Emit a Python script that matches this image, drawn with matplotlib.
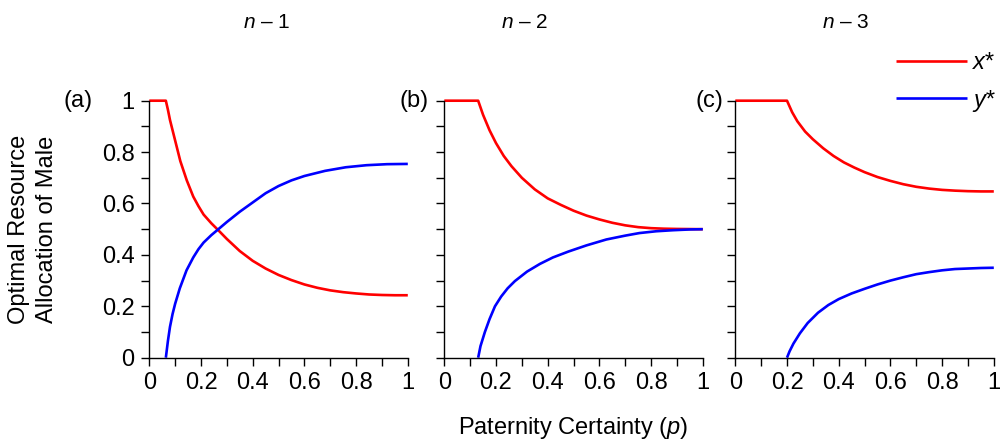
import numpy as np
import matplotlib
matplotlib.use("Agg")
import matplotlib.pyplot as plt
from matplotlib.ticker import MultipleLocator

plt.rcParams['font.family'] = ['Liberation Sans', 'DejaVu Sans']
plt.rcParams['mathtext.fontset'] = 'custom'
plt.rcParams['mathtext.it'] = 'Liberation Sans:italic'
plt.rcParams['mathtext.rm'] = 'Liberation Sans'

# values: paternity certainty p vs optimal allocation
# panel (a), n = 1
p_x1 = [0, 0.064, 0.072, 0.08, 0.09, 0.10, 0.12, 0.145, 0.17, 0.19, 0.21, 0.24,
        0.266, 0.30, 0.35, 0.40, 0.45, 0.50, 0.55, 0.60, 0.65, 0.70, 0.75, 0.80,
        0.85, 0.90, 0.95, 1.0]
x1 = [1, 1, 0.965, 0.925, 0.885, 0.845, 0.765, 0.69, 0.627, 0.59, 0.557, 0.523,
      0.497, 0.462, 0.415, 0.377, 0.347, 0.322, 0.302, 0.285, 0.272, 0.262, 0.255,
      0.25, 0.246, 0.244, 0.243, 0.243]
p_y1 = [0.064, 0.072, 0.08, 0.09, 0.10, 0.118, 0.144, 0.17, 0.19, 0.21, 0.24, 0.266,
        0.30, 0.35, 0.40, 0.45, 0.50, 0.55, 0.60, 0.68, 0.76, 0.84, 0.92, 1.0]
y1 = [0, 0.065, 0.12, 0.17, 0.21, 0.27, 0.34, 0.39, 0.422, 0.448, 0.477, 0.499,
      0.528, 0.568, 0.604, 0.64, 0.668, 0.69, 0.707, 0.727, 0.741, 0.749, 0.753, 0.754]

# panel (b), n = 2
p_x2 = [0, 0.131, 0.15, 0.175, 0.20, 0.23, 0.26, 0.30, 0.35, 0.40, 0.45, 0.50,
        0.55, 0.60, 0.65, 0.70, 0.75, 0.80, 0.85, 0.90, 1.0]
x2 = [1, 1, 0.945, 0.885, 0.835, 0.785, 0.745, 0.70, 0.655, 0.62, 0.595, 0.572,
      0.553, 0.538, 0.525, 0.515, 0.508, 0.504, 0.502, 0.501, 0.50]
p_y2 = [0.131, 0.14, 0.157, 0.175, 0.196, 0.22, 0.245, 0.273, 0.32, 0.37, 0.42,
        0.48, 0.55, 0.627, 0.70, 0.755, 0.82, 0.884, 0.95, 1.0]
y2 = [0, 0.045, 0.10, 0.15, 0.20, 0.238, 0.27, 0.298, 0.335, 0.365, 0.39,
      0.413, 0.437, 0.46, 0.475, 0.485, 0.492, 0.496, 0.499, 0.50]

# panel (c), n = 3
p_x3 = [0, 0.2, 0.22, 0.24, 0.27, 0.30, 0.34, 0.38, 0.42, 0.46, 0.50, 0.55,
        0.60, 0.65, 0.70, 0.75, 0.80, 0.85, 0.90, 0.95, 1.0]
x3 = [1, 1, 0.955, 0.92, 0.88, 0.85, 0.815, 0.785, 0.76, 0.74, 0.722, 0.703,
      0.688, 0.675, 0.665, 0.658, 0.653, 0.65, 0.648, 0.647, 0.647]
p_y3 = [0.2, 0.21, 0.225, 0.25, 0.28, 0.32, 0.36, 0.40, 0.45, 0.50, 0.55,
        0.60, 0.65, 0.70, 0.75, 0.80, 0.85, 0.90, 0.95, 1.0]
y3 = [0, 0.025, 0.055, 0.095, 0.135, 0.175, 0.205, 0.228, 0.25, 0.268, 0.285,
      0.30, 0.313, 0.325, 0.333, 0.34, 0.345, 0.347, 0.349, 0.35]

panels = [
    ("(a)", r"$n$ – 1", p_x1, x1, p_y1, y1),
    ("(b)", r"$n$ – 2", p_x2, x2, p_y2, y2),
    ("(c)", r"$n$ – 3", p_x3, x3, p_y3, y3),
]

fig = plt.figure(figsize=(10.01, 4.44), dpi=100)

lefts = [149.3, 444.3, 735.3]
title_x = [267, 525, 846]
tag_x = [78, 414, 709]
W, H = 1001.0, 444.0
for i, (tag, title, px, xs, py, ys) in enumerate(panels):
    ax = fig.add_axes([lefts[i] / W, 86.3 / H, 258.5 / W, 257.0 / H])
    lx, = ax.plot(px, xs, color='#ff0000', lw=1.9, clip_on=False, solid_capstyle='butt')
    ly, = ax.plot(py, ys, color='#0000ff', lw=1.9, clip_on=False, solid_capstyle='butt')
    ax.set_xlim(0, 1)
    ax.set_ylim(0, 1)
    for s in ['top', 'right']:
        ax.spines[s].set_visible(False)
    for s in ['left', 'bottom']:
        ax.spines[s].set_linewidth(1.0)
    ax.xaxis.set_major_locator(MultipleLocator(0.2))
    ax.xaxis.set_minor_locator(MultipleLocator(0.1))
    ax.yaxis.set_major_locator(MultipleLocator(0.2))
    ax.yaxis.set_minor_locator(MultipleLocator(0.1))
    ax.tick_params(which='both', direction='out', length=5.5, width=1.0,
                   labelsize=17, pad=5)
    ax.xaxis.set_major_formatter(lambda v, pos: '%g' % round(v, 1))
    if i == 0:
        ax.yaxis.set_major_formatter(lambda v, pos: '%g' % round(v, 1))
    else:
        ax.tick_params(axis='y', labelleft=False)
    fig.text(tag_x[i] / W, 1 - 101 / H, tag, ha='center', va='center', fontsize=17)
    fig.text(title_x[i] / W, 1 - 22 / H, title, ha='center', va='center', fontsize=15)

fig.legend([lx, ly], ['x*', 'y*'], loc='upper right', bbox_to_anchor=(0.993, 0.885),
           frameon=False, handlelength=3.0, handletextpad=0.25, labelspacing=0.62,
           borderpad=0, borderaxespad=0, prop={'size': 17, 'style': 'italic'})

fig.text(33 / W, 1 - 229 / H, "Optimal Resource\nAllocation of Male", rotation=90,
         ha='center', va='center', fontsize=17, linespacing=1.32)
fig.text(573.5 / W, 1 - 428 / H, r"Paternity Certainty ($p$)", ha='center', va='center',
         fontsize=17)

fig.savefig("out.png", dpi=100)
